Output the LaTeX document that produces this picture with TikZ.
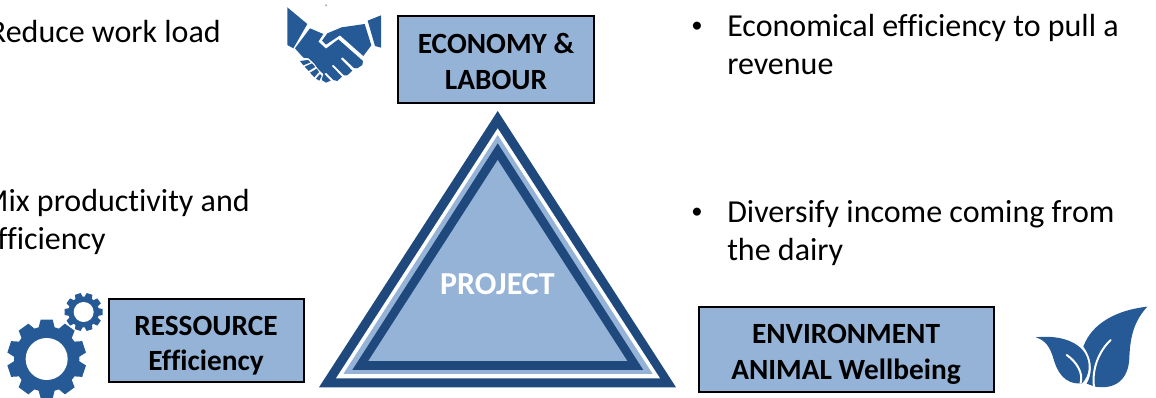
\documentclass[tikz,border=0pt]{standalone}
\usepackage{fontspec}
\setmainfont[Ligatures={NoCommon}]{Carlito}
\definecolor{boxblue}{HTML}{95B3D7}
\definecolor{triDark}{HTML}{1F497D}
\definecolor{iconblue}{HTML}{255A96}
\tikzset{
  bodytext/.style={inner sep=0pt,anchor=base west,font=\fontsize{24}{28}\selectfont,text=black},
  bodyright/.style={inner sep=0pt,anchor=base east,font=\fontsize{24}{28}\selectfont,text=black},
  bulletmark/.style={inner sep=0pt,anchor=base west,font=\fontsize{17}{22}\selectfont,text=black},
  boxnode/.style={draw=black,line width=1.5pt,fill=boxblue,inner sep=0pt,anchor=north west},
  boxlabel/.style={inner sep=0pt,anchor=base,font=\bfseries\fontsize{22}{26}\selectfont,text=black},
  vein/.style={draw=white,line width=1.5pt,line cap=round},
}
\begin{document}
\begin{tikzpicture}[x=0.75pt,y=-0.75pt]
\useasboundingbox (0,0) rectangle (1156,398);
% triangle layers
\fill[triDark] (497.7,111) -- (676,387.3) -- (319,387.3) -- cycle;
\fill[white] (497.7,128.3) -- (660,378.3) -- (336,378.3) -- cycle;
\fill[boxblue] (497.7,135) -- (652.7,374) -- (343.3,374) -- cycle;
\fill[triDark] (497.7,143.3) -- (643.3,370) -- (352.3,370) -- cycle;
\fill[boxblue] (497.7,160) -- (627.3,361) -- (368.3,361) -- cycle;
\node[inner sep=0pt,anchor=base,font=\bfseries\fontsize{24}{28}\selectfont,text=white] (project) at (497.5,295) {PROJECT};
% boxes
\node[boxnode,minimum width=147pt,minimum height=65.5pt] (economy) at (397.3,15) {};
\node[boxlabel] (economyA) at (496,54) {ECONOMY \&};
\node[boxlabel] (economyB) at (496,90) {LABOUR};
\node[boxnode,minimum width=146pt,minimum height=62.5pt] (resource) at (108.3,297.7) {};
\node[boxlabel] (resourceA) at (206,336) {RESSOURCE};
\node[boxlabel] (resourceB) at (206,371) {Efficiency};
\node[boxnode,minimum width=221.5pt,minimum height=64pt] (environment) at (698,306) {};
\node[boxlabel] (environmentA) at (846,344) {ENVIRONMENT};
\node[boxlabel] (environmentB) at (846,380) {ANIMAL Wellbeing};
% texts
\node[bodyright] (t1) at (221,43) {Reduce work load};
\node[bodyright] (t2) at (250,212) {Mix productivity and};
\node[bodyright] (t3) at (106,250) {efficiency};
\node[bulletmark] (b1) at (691,33) {•};
\node[bodytext] (t4) at (727,37) {Economical efficiency to pull a};
\node[bodytext] (t5) at (727,75) {revenue};
\node[bulletmark] (b2) at (691,219) {•};
\node[bodytext] (t6) at (727,223) {Diversify income coming from};
\node[bodytext] (t7) at (727,261) {the dairy};
% handshake icon (zoom coordinates)
\begin{scope}[shift={(270,0)},x=0.25pt,y=-0.25pt]
\fill[iconblue] (166,14) -- (170,14) -- (168,20) -- cycle;
\fill[iconblue] (52,22) -- (112,72) -- (70,145) -- (52,135) -- cycle;
\fill[iconblue] (333,46) -- (293,62) -- (315,138) -- (333,143) -- cycle;
\fill[iconblue] (120,85) -- (160,102) -- (145,125) -- (168,146) -- (205,118) -- (279,183) -- (277,195) -- (262,205) -- (252,204) -- (218,172) -- (212,176) -- (247,212) -- (232,226) -- (222,226) -- (190,194) -- (185,198) -- (216,230) -- (202,243) -- (190,240) -- (168,218) -- (163,222) -- (182,242) -- (168,248) -- (155,240) -- (160,222) -- (145,208) -- (132,190) -- (116,175) -- (100,173) -- (75,145) -- cycle;
\fill[iconblue] (90,183) -- (114,180) -- (122,187) -- (100,196) -- cycle;
\fill[iconblue] (104,200) -- (126,190) -- (136,201) -- (116,213) -- cycle;
\fill[iconblue] (120,218) -- (140,206) -- (147,216) -- (133,232) -- cycle;
\fill[iconblue] (138,236) -- (150,222) -- (155,228) -- (148,242) -- cycle;
\fill[iconblue] (172,100) -- (215,82) -- (284,72) -- (304,136) -- (280,168) -- (210,106) -- (168,134) -- (156,122) -- cycle;
\end{scope}
% gears
\begin{scope}[shift={(0,280)},x=0.25pt,y=-0.25pt]
\foreach \a in {0,36,...,324}{
  \fill[iconblue,rotate around={\a+18:(251,96)}] (242,39) -- (260,39) -- (264,60) -- (238,60) -- cycle;
}
\foreach \a in {0,36,...,324}{
  \fill[iconblue,rotate around={\a:(140,237)}] (122,119) -- (158,119) -- (166,150) -- (114,150) -- cycle;
}
\fill[iconblue] (140,237) circle (98);
\fill[iconblue] (251,96) circle (46);
\fill[white] (140,237) circle (63);
\fill[white] (251,96) circle (30);
\end{scope}
% leaves
\begin{scope}[shift={(1020,295)},x=0.25pt,y=-0.25pt]
\fill[iconblue] (382,35) .. controls (290,45) and (215,85) .. (190,155) .. controls (205,175) and (215,200) .. (212,230) .. controls (210,245) and (205,258) .. (200,266) .. controls (210,270) and (218,272) .. (225,275) .. controls (290,285) and (325,250) .. (328,190) .. controls (330,120) and (345,75) .. (382,35) -- cycle;
\fill[iconblue] (47,127) .. controls (110,120) and (170,135) .. (195,175) .. controls (212,205) and (210,240) .. (186,265) .. controls (130,270) and (110,225) .. (100,190) .. controls (90,155) and (75,135) .. (47,127) -- cycle;
\draw[vein] (140,180) .. controls (170,200) and (190,235) .. (182,263);
\draw[vein] (272,135) .. controls (235,170) and (215,225) .. (222,275);
\end{scope}
\end{tikzpicture}
\end{document}
